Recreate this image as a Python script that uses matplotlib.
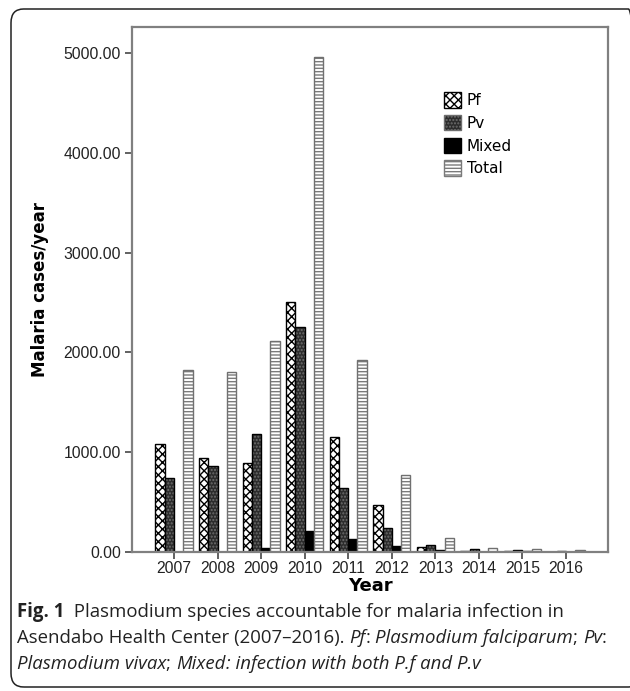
import matplotlib.pyplot as plt
import numpy as np
from matplotlib.patches import FancyBboxPatch

# data
years = ['2007', '2008', '2009', '2010', '2011', '2012', '2013', '2014', '2015', '2016']
pf = [1080, 940, 890, 2500, 1150, 470, 50, 8, 8, 5]
pv = [740, 860, 1180, 2250, 640, 240, 70, 28, 20, 10]
mixed = [0, 0, 40, 210, 130, 60, 20, 4, 7, 5]
total = [1820, 1800, 2110, 4960, 1920, 770, 140, 40, 35, 20]
series_names = ['Pf', 'Pv', 'Mixed', 'Total']
yticks = [0, 1000, 2000, 3000, 4000, 5000]

plt.rcParams['hatch.linewidth'] = 1.0

fig = plt.figure(figsize=(6.3, 6.91), dpi=100)
ax = fig.add_axes([132 / 630, 1 - 552 / 691, 476 / 630, 525 / 691])

# rounded frame around the whole figure
frame = FancyBboxPatch((11 / 630, 4 / 691), 630 / 630, 678 / 691,
                       boxstyle='round,pad=0,rounding_size=0.02',
                       transform=fig.transFigure, fill=False,
                       edgecolor='#222222', linewidth=1.1, clip_on=False)
fig.patches.append(frame)

x = np.arange(len(years))
w = 0.213
styles = [
    # face, hatch, hatch colour, edge
    ('white', 'xxxx', 'black', 'black'),
    ('#2c2c2c', '.....', '#6e6e6e', 'black'),
    ('black', None, 'black', 'black'),
    ('white', '-----', '#7a7a7a', '#707070'),
]
handles = []
for i, (vals, st) in enumerate(zip([pf, pv, mixed, total], styles)):
    face, hatch, hcol, edge = st
    pos = x + (i - 1.5) * w
    ax.bar(pos, vals, w, color=face, hatch=hatch, edgecolor=hcol, linewidth=0)
    ax.bar(pos, vals, w, fill=False, edgecolor=edge, linewidth=1.0)
    h = plt.Rectangle((0, 0), 1, 1, facecolor=face, hatch=hatch, edgecolor=hcol, linewidth=1.0)
    handles.append(h)

ax.set_xlim(-0.963, 9.963)
ax.set_ylim(0, 5260)
ax.set_xticks(x)
ax.set_xticklabels(years, fontsize=11.3, family='Liberation Sans', color='#222222')
ax.set_yticks(yticks)
ax.set_yticklabels(['%.2f' % v for v in yticks], fontsize=11.3,
                   family='Liberation Sans', color='#222222')
for s in ax.spines.values():
    s.set_color('#808080')
    s.set_linewidth(1.6)
ax.tick_params(length=5, width=1.3, color='#555555', pad=3)
ax.tick_params(axis='x', pad=1.5)

ax.set_xlabel('Year', fontsize=13, fontweight='bold', family='DejaVu Sans', labelpad=1)
ax.set_ylabel('Malaria cases/year', fontsize=12, fontweight='bold', family='DejaVu Sans', labelpad=10)

ax.legend(handles, series_names, loc='upper left', bbox_to_anchor=(0.655, 0.876),
          frameon=False, prop={'family': 'DejaVu Sans', 'size': 11},
          handlelength=1.1, handleheight=1.2, handletextpad=0.4,
          labelspacing=0.44, borderpad=0, borderaxespad=0)

# caption, with bold / italic pieces
cap_font = 'Open Sans'
cap_size = 13.4
lines = [
    [('Fig. 1', 'normal', 'bold'), ('  Plasmodium species accountable for malaria infection in', 'normal', 'normal')],
    [('Asendabo Health Center (2007\u20132016). ', 'normal', 'normal'), ('Pf', 'italic', 'normal'),
     (': ', 'normal', 'normal'), ('Plasmodium falciparum', 'italic', 'normal'), ('; ', 'normal', 'normal'),
     ('Pv', 'italic', 'normal'), (':', 'normal', 'normal')],
    [('Plasmodium vivax', 'italic', 'normal'), ('; ', 'normal', 'normal'), ('Mixed', 'italic', 'normal'),
     (': infection with both P.f and P.v', 'italic', 'normal')],
]
baselines = [617, 643, 669]
renderer = fig.canvas.get_renderer()
for parts, yb in zip(lines, baselines):
    xp = 17 / 630
    for s, style, weight in parts:
        t = fig.text(xp, 1 - yb / 691, s, fontsize=cap_size, style=style, weight=weight,
                     family=cap_font, va='baseline', ha='left', color='#222222')
        xp += t.get_window_extent(renderer).width / fig.bbox.width

fig.savefig('out.png', dpi=100)
